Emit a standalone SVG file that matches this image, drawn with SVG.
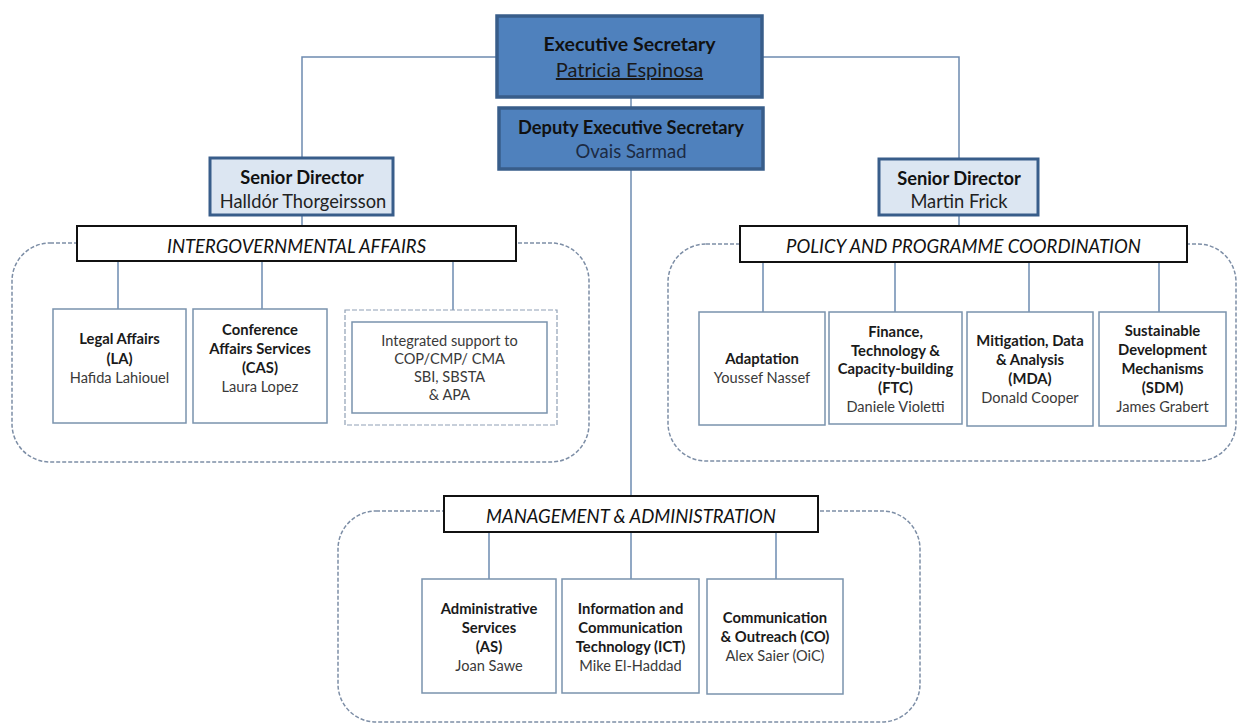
<svg xmlns="http://www.w3.org/2000/svg" width="1237" height="724" viewBox="0 0 1237 724">
<style>
  text { font-family: Lato, "Open Sans", "Liberation Sans", sans-serif; text-anchor: middle; }
  .conn { fill: none; stroke: #6d8bb0; stroke-width: 1.5; }
  .cont { fill: none; stroke: #7d8ea6; stroke-width: 1.5; stroke-dasharray: 4 2; }
  .exec { fill: #4f81bd; stroke: #385d8a; stroke-width: 3.5; }
  .sd { fill: #dce6f2; stroke: #385d8a; stroke-width: 3; }
  .hdr { fill: #ffffff; stroke: #111111; stroke-width: 2; }
  .box { fill: #ffffff; stroke: #7a93ad; stroke-width: 1.5; }
  .dbox { fill: #ffffff; stroke: #8fa0b5; stroke-width: 1.2; stroke-dasharray: 5 2; }
  .t-exec { font-size: 19.5px; font-weight: bold; fill: #111111; }
  .t-dep { font-size: 18.3px; font-weight: bold; fill: #111111; }
  .n-exec { font-size: 20px; fill: #1a1a1a; }
  .n-dep { font-size: 18.5px; fill: #1c2b44; }
  .t-sd { font-size: 18.3px; font-weight: bold; fill: #111111; }
  .n-sd { font-size: 18.3px; fill: #222222; }
  .t-hdr { font-size: 18.5px; font-style: italic; fill: #111111; }
  .b { font-size: 14.8px; font-weight: bold; fill: #1a1a1a; }
  .r { font-size: 14.6px; fill: #3a3a3a; }
</style>

<g id="containers">
  <rect class="cont" x="12" y="243" width="577" height="219" rx="38" ry="38"/>
  <rect class="cont" x="668" y="244" width="568" height="217" rx="38" ry="38"/>
  <rect class="cont" x="338" y="511" width="582" height="211" rx="38" ry="38"/>
</g>

<g id="connectors">
  <path class="conn" d="M497,57 H302 V159"/>
  <path class="conn" d="M762,57 H959 V159"/>
  <path class="conn" d="M631,97 V108"/>
  <path class="conn" d="M631,169 V496"/>
  <path class="conn" d="M302,215 V226"/>
  <path class="conn" d="M959,215 V226"/>
  <path class="conn" d="M118,261 V309"/>
  <path class="conn" d="M262,261 V309"/>
  <path class="conn" d="M453,261 V310"/>
  <path class="conn" d="M763,262 V312"/>
  <path class="conn" d="M895,262 V312"/>
  <path class="conn" d="M1029,262 V312"/>
  <path class="conn" d="M1159,262 V312"/>
  <path class="conn" d="M489,532 V579"/>
  <path class="conn" d="M631,532 V579"/>
  <path class="conn" d="M776,532 V579"/>
</g>

<g id="executive-secretary">
  <rect class="exec" x="497" y="16" width="265" height="81"/>
  <text class="t-exec" x="629.5" y="51">Executive Secretary</text>
  <text class="n-exec" x="629.5" y="77" text-decoration="underline">Patricia Espinosa</text>
</g>

<g id="deputy-executive-secretary">
  <rect class="exec" x="499" y="108" width="264" height="61"/>
  <text class="t-dep" x="631" y="134">Deputy Executive Secretary</text>
  <text class="n-dep" x="631" y="158">Ovais Sarmad</text>
</g>

<g id="senior-director-left">
  <rect class="sd" x="210" y="158" width="183" height="57"/>
  <text class="t-sd" x="302" y="184">Senior Director</text>
  <text class="n-sd" x="303" y="208">Halldór Thorgeirsson</text>
</g>

<g id="senior-director-right">
  <rect class="sd" x="879" y="159" width="159" height="56"/>
  <text class="t-sd" x="959" y="185">Senior Director</text>
  <text class="n-sd" x="959" y="208">Martin Frick</text>
</g>

<g id="intergovernmental-affairs">
  <rect class="hdr" x="77" y="226" width="439" height="35"/>
  <text class="t-hdr" x="296.5" y="253">INTERGOVERNMENTAL AFFAIRS</text>
</g>

<g id="policy-programme-coordination">
  <rect class="hdr" x="740" y="226" width="447" height="36"/>
  <text class="t-hdr" x="963.5" y="253">POLICY AND PROGRAMME COORDINATION</text>
</g>

<g id="management-administration">
  <rect class="hdr" x="444" y="496" width="374" height="36"/>
  <text class="t-hdr" x="631" y="523">MANAGEMENT &amp; ADMINISTRATION</text>
</g>

<g id="legal-affairs">
  <rect class="box" x="53" y="309" width="133" height="114"/>
  <text class="b" x="119.5" y="344">Legal Affairs</text>
  <text class="b" x="119.5" y="364">(LA)</text>
  <text class="r" x="119.5" y="383">Hafida Lahiouel</text>
</g>

<g id="conference-affairs">
  <rect class="box" x="193" y="309" width="134" height="114"/>
  <text class="b" x="260" y="335">Conference</text>
  <text class="b" x="260" y="354">Affairs Services</text>
  <text class="b" x="260" y="373">(CAS)</text>
  <text class="r" x="260" y="392">Laura Lopez</text>
</g>

<g id="integrated-support">
  <rect class="dbox" x="345" y="310" width="212" height="115"/>
  <rect class="box" x="352" y="322" width="195" height="91"/>
  <text class="r" x="449.5" y="346">Integrated support to</text>
  <text class="r" x="449.5" y="364">COP/CMP/ CMA</text>
  <text class="r" x="449.5" y="382">SBI, SBSTA</text>
  <text class="r" x="449.5" y="400">&amp; APA</text>
</g>

<g id="adaptation">
  <rect class="box" x="699" y="312" width="126" height="113"/>
  <text class="b" x="762" y="364">Adaptation</text>
  <text class="r" x="762" y="383">Youssef Nassef</text>
</g>

<g id="ftc">
  <rect class="box" x="829" y="312" width="133" height="112"/>
  <text class="b" x="895.5" y="337">Finance,</text>
  <text class="b" x="895.5" y="356">Technology &amp;</text>
  <text class="b" x="895.5" y="374">Capacity-building</text>
  <text class="b" x="895.5" y="393">(FTC)</text>
  <text class="r" x="895.5" y="412">Daniele Violetti</text>
</g>

<g id="mda">
  <rect class="box" x="967" y="312" width="126" height="114"/>
  <text class="b" x="1030" y="346">Mitigation, Data</text>
  <text class="b" x="1030" y="365">&amp; Analysis</text>
  <text class="b" x="1030" y="384">(MDA)</text>
  <text class="r" x="1030" y="403">Donald Cooper</text>
</g>

<g id="sdm">
  <rect class="box" x="1099" y="312" width="127" height="114"/>
  <text class="b" x="1162.5" y="336">Sustainable</text>
  <text class="b" x="1162.5" y="355">Development</text>
  <text class="b" x="1162.5" y="374">Mechanisms</text>
  <text class="b" x="1162.5" y="393">(SDM)</text>
  <text class="r" x="1162.5" y="412">James Grabert</text>
</g>

<g id="administrative-services">
  <rect class="box" x="422" y="579" width="134" height="114"/>
  <text class="b" x="489" y="614">Administrative</text>
  <text class="b" x="489" y="633">Services</text>
  <text class="b" x="489" y="652">(AS)</text>
  <text class="r" x="489" y="671">Joan Sawe</text>
</g>

<g id="ict">
  <rect class="box" x="562" y="579" width="137" height="114"/>
  <text class="b" x="630.5" y="614">Information and</text>
  <text class="b" x="630.5" y="633">Communication</text>
  <text class="b" x="630.5" y="652">Technology (ICT)</text>
  <text class="r" x="630.5" y="671">Mike El-Haddad</text>
</g>

<g id="communication-outreach">
  <rect class="box" x="707" y="579" width="136" height="115"/>
  <text class="b" x="775" y="623">Communication</text>
  <text class="b" x="775" y="642">&amp; Outreach (CO)</text>
  <text class="r" x="775" y="661">Alex Saier (OiC)</text>
</g>
</svg>
